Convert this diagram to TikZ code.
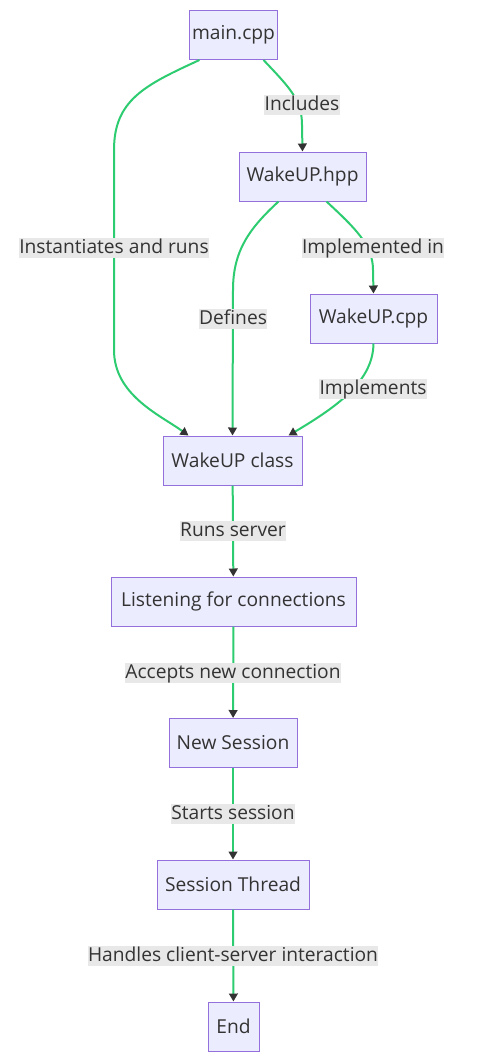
\documentclass[tikz,border=0pt]{standalone}
\usepackage{fontspec}
\setmainfont{Open Sans}
\usetikzlibrary{arrows.meta,calc}
\definecolor{nodefill}{HTML}{ECECFF}
\definecolor{nodeline}{HTML}{9370DB}
\definecolor{edgecol}{HTML}{2ECC71}
\definecolor{lblbg}{HTML}{E8E8E8}
\definecolor{txt}{HTML}{333333}
\begin{document}
\begin{tikzpicture}[x=0.75pt,y=-0.75pt,
  font=\fontsize{14.4}{16}\selectfont,
  box/.style={draw=nodeline, fill=nodefill, line width=0.75pt, text=txt,
    minimum height=36.75pt, inner xsep=2pt},
  lbl/.style={fill=lblbg, text=txt, inner xsep=0.3pt, inner ysep=0.5pt, text height=11pt, text depth=3.5pt},
  link/.style={draw=edgecol, line width=1.5pt,
    -{Triangle[length=6pt,width=6.5pt,color=txt]}}]
\useasboundingbox[fill=white] (0,0) rectangle (477,1061);
% nodes
\node[box, minimum width=62.25pt] (main) at (233.5,35) {main.cpp};
\node[box, minimum width=95.25pt] (hpp) at (302.5,176.5) {WakeUP.hpp};
\node[box, minimum width=95.25pt] (cpp) at (373.5,318.5) {WakeUP.cpp};
\node[box, minimum width=104.25pt] (cls) at (232.5,460.5) {WakeUP class};
\node[box, minimum width=183.75pt] (lis) at (233.5,601.5) {Listening for connections};
\node[box, minimum width=96pt] (ns) at (233,743) {New Session};
\node[box, minimum width=114pt] (st) at (233,884.5) {Session Thread};
\node[box, minimum width=38.25pt] (end) at (233.5,1026.5) {End};
% edges
\draw[link] ($(main.south)+(30,0)$) .. controls (290,88) and (302,100) .. (302,125) -- (hpp.north);
\draw[link] ($(main.south)+(-34,0)$) .. controls (145,85) and (114,100) .. (114,150) -- (114,350) .. controls (114,395) and (160,415) .. ($(cls.north)+(-44,0)$);
\draw[link] ($(hpp.south)+(-24,0)$) .. controls (250,228) and (233,250) .. (233,290) -- (cls.north);
\draw[link] ($(hpp.south)+(24,0)$) .. controls (355,228) and (373,245) .. (373,270) -- (cpp.north);
\draw[link] (cpp.south) .. controls (373,380) and (340,405) .. ($(cls.north)+(56,0)$);
\draw[link] (cls) -- (lis);
\draw[link] (lis) -- (ns);
\draw[link] (ns) -- (st);
\draw[link] (st) -- (end);
% edge labels
\node[lbl] (l1) at (302,105) {Includes};
\node[lbl] (l2) at (114,248) {Instantiates and runs};
\node[lbl] (l3) at (373,248) {Implemented in};
\node[lbl] (l4) at (233,319) {Defines};
\node[lbl] (l5) at (373,389) {Implements};
\node[lbl] (l6) at (233,531) {Runs server};
\node[lbl] (l7) at (233,673) {Accepts new connection};
\node[lbl] (l8) at (233,814) {Starts session};
\node[lbl] (l9) at (233,956) {Handles client-server interaction};
\end{tikzpicture}
\end{document}
